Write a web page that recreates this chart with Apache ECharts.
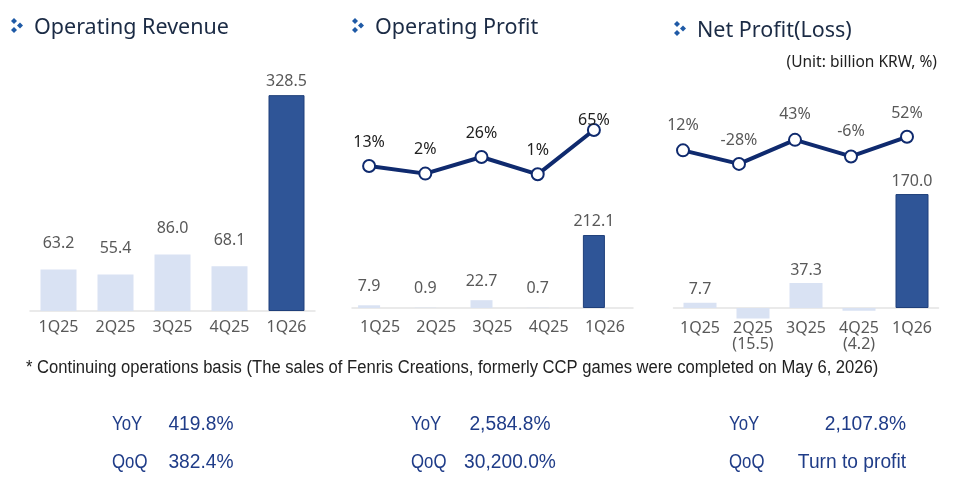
<!DOCTYPE html>
<html>
<head>
<meta charset="utf-8">
<script src="https://cdn.jsdelivr.net/npm/echarts@6/dist/echarts.min.js"></script>
<style>
  html, body { margin: 0; padding: 0; background: #fff; }
  #main { width: 960px; height: 490px; }
</style>
</head>
<body>
<div id="main"></div>
<script>
var quarters = ['1Q25', '2Q25', '3Q25', '4Q25', '1Q26'];
var revenue = [63.2, 55.4, 86.0, 68.1, 328.5];
var opProfit = [7.9, 0.9, 22.7, 0.7, 212.1];
var opMargin = [13, 2, 26, 1, 65];
var netProfit = [7.7, -15.5, 37.3, -4.2, 170.0];
var netMargin = [12, -28, 43, -6, 52];

var titles = ['Operating Revenue', 'Operating Profit', 'Net Profit(Loss)'];
var yoyText = ['419.8%', '2,584.8%', '2,107.8%'];
var qoqText = ['382.4%', '30,200.0%', 'Turn to profit'];

var LIGHT = '#d9e2f3';
var DARK = '#2f5597';
var NAVY = '#0f2a6e';
var GRAY = '#595959';
var FONT = 'Noto Sans';
var SANS = 'Liberation Sans';

var dom = document.getElementById('main');
var myChart = echarts.init(dom);

// last quarter is the highlighted dark bar
function barData(vals, lightDist, darkDist) {
  return vals.map(function (v, i) {
    var last = i === vals.length - 1;
    return {
      value: v,
      itemStyle: last ? { color: DARK, borderColor: '#1f3f7a', borderWidth: 1 } : { color: LIGHT },
      label: { distance: last ? darkDist : lightDist }
    };
  });
}

var barLabel = {
  show: true,
  position: 'top',
  color: GRAY,
  fontSize: 16,
  fontFamily: FONT,
  formatter: function (p) { return p.value < 0 ? '' : p.value.toFixed(1); }
};

function catAxis(grid, showLine, labelOpt) {
  return {
    type: 'category',
    gridIndex: grid,
    data: quarters,
    axisTick: { show: false },
    axisLine: { show: showLine, lineStyle: { color: '#e3e3e3', width: 1.5 } },
    axisLabel: labelOpt ? Object.assign({ interval: 0, color: GRAY, fontSize: 16, fontFamily: FONT }, labelOpt) : { show: false }
  };
}

function valAxis(grid, min, max) {
  return {
    type: 'value', gridIndex: grid, min: min, max: max, show: false,
    splitLine: { show: false }
  };
}

function lineSeries(xi, yi, vals, color, dists) {
  return {
    type: 'line',
    xAxisIndex: xi,
    yAxisIndex: yi,
    data: vals.map(function (v, i) { return { value: v, label: { distance: dists[i] } }; }),
    symbol: 'circle',
    symbolSize: 12,
    lineStyle: { color: NAVY, width: 4 },
    itemStyle: { color: '#fff', borderColor: NAVY, borderWidth: 2 },
    label: {
      show: true, position: 'top', color: color, fontSize: 16, fontFamily: FONT,
      formatter: '{c}%'
    },
    z: 5
  };
}

function diamonds(x, y) {
  var pts = [[0, 0], [6, 4.5], [0, 9]];
  return {
    type: 'group', left: x, top: y,
    children: pts.map(function (p) {
      return {
        type: 'polygon',
        shape: { points: [[p[0] + 3, p[1]], [p[0] + 6, p[1] + 3], [p[0] + 3, p[1] + 6], [p[0], p[1] + 3]] },
        style: { fill: '#1f5aa6' }
      };
    })
  };
}

function narrowText(x, y, text, size, color, align, sx) {
  return {
    type: 'text', x: x, y: y, scaleX: sx,
    style: { text: text, fill: color, font: size + 'px "' + SANS + '"', align: align, verticalAlign: 'middle' }
  };
}

var titleX = [34, 375, 697];
var titleY = [17, 17, 20];
var iconX = [11, 352, 674];

var graphics = [];
titles.forEach(function (t, i) {
  graphics.push(diamonds(iconX[i], titleY[i] + 1));
  graphics.push({
    type: 'text', left: titleX[i], top: titleY[i],
    style: { text: t, fill: '#1b2b45', font: '21.5px "' + FONT + '"' }
  });
});
graphics.push({
  type: 'text', right: 23, top: 55,
  style: { text: '(Unit: billion KRW, %)', fill: '#222', font: '15.5px "' + FONT + '"' }
});
graphics.push(narrowText(26, 368,
  '* Continuing operations basis (The sales of Fenris Creations, formerly CCP games were completed on May 6, 2026)',
  18, '#222', 'left', 0.922));

var labelX = [112, 411, 729];
var valX = [201, 510, 906];
var valAlign = ['center', 'center', 'right'];
[['YoY', yoyText, 424], ['QoQ', qoqText, 462]].forEach(function (row) {
  for (var i = 0; i < 3; i++) {
    graphics.push(narrowText(labelX[i], row[2], row[0], 20, '#1f3c88', 'left', 0.84));
    graphics.push(narrowText(valX[i], row[2], row[1][i], 20, '#1f3c88', valAlign[i], 0.96));
  }
});

var option = {
  animation: false,
  textStyle: { fontFamily: FONT },
  grid: [
    { left: 30, width: 285, top: 60, height: 251 },   // revenue
    { left: 341, width: 281, top: 60, height: 248 },  // op profit bars + line
    { left: 352, width: 281, top: 60, height: 248 },  // op profit axis
    { left: 673.5, width: 265, top: 60, height: 248 },// net profit bars (negatives drawn below)
    { left: 655, width: 280, top: 60, height: 248 }   // net profit line
  ],
  xAxis: [
    catAxis(0, true, { margin: 8 }),
    catAxis(1, false, null),
    catAxis(2, true, { margin: 11 }),
    catAxis(3, true, {
      margin: 12, lineHeight: 16,
      formatter: function (v, i) {
        return netProfit[i] < 0 ? v + '\n(' + Math.abs(netProfit[i]).toFixed(1) + ')' : v;
      }
    }),
    catAxis(4, false, null)
  ],
  yAxis: [
    valAxis(0, 0, 382),
    valAxis(1, 0, 721),
    valAxis(1, -192.2, 166.2),
    valAxis(2, 0, 100),
    valAxis(3, 0, 370),
    valAxis(4, -453, 278.5)
  ],
  series: [
    { type: 'bar', xAxisIndex: 0, yAxisIndex: 0, barWidth: 36, data: barData(revenue, 18, 6), label: barLabel },
    { type: 'bar', xAxisIndex: 1, yAxisIndex: 1, barWidth: 22, data: barData(opProfit, 11, 6), label: barLabel },
    lineSeries(1, 2, opMargin, '#222', [9, 9, 9, 9, -5]),
    { type: 'bar', xAxisIndex: 3, yAxisIndex: 4, barWidth: 33, clip: false, data: barData(netProfit, 5, 5), label: barLabel },
    lineSeries(4, 5, netMargin, GRAY, [10, 8, 10, 10, 8])
  ],
  graphic: graphics
};

if (option && typeof option === 'object') {
  myChart.setOption(option, true);
}
</script>
</body>
</html>
